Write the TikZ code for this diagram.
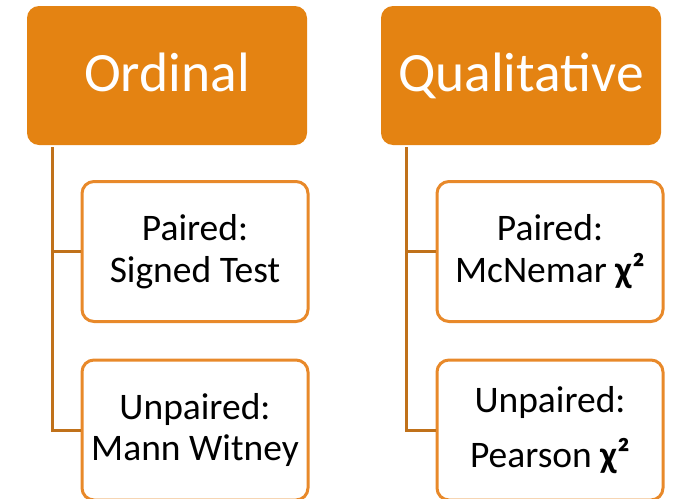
\documentclass[tikz,border=0pt]{standalone}
\usepackage{fontspec}
\setmainfont{Carlito}
\definecolor{headfill}{RGB}{228,131,18}
\definecolor{leafdraw}{RGB}{232,137,42}
\definecolor{branchcol}{RGB}{192,113,26}
\tikzset{
  headbox/.style={rectangle, rounded corners=12pt, fill=headfill, text=white,
    minimum width=280pt, minimum height=139pt, text height=39pt, text depth=8pt,
    font=\fontsize{55.5}{60}\selectfont},
  leafbox/.style={rectangle, rounded corners=12pt, draw=leafdraw, line width=3pt, fill=white,
    minimum width=226pt, minimum height=140pt, align=center,
    font=\fontsize{37.5}{41.5}\selectfont},
  branch/.style={draw=branchcol, line width=3pt}
}
\begin{document}
\begin{tikzpicture}[x=1pt,y=-1pt]
            
            \useasboundingbox (0,0) rectangle (674,498);
            
            \node[headbox] (ordinal) at (167,75.5) {Ordinal};
            \node[headbox] (qualit) at (521,75.5) {Qualitative};
            
            \node[leafbox] (ordpaired) at (195,251.5) {Paired:\\Signed Test};
            \node[leafbox] (ordunpaired) at (195,430) {Unpaired:\\Mann Witney};
            \node[leafbox] (qualpaired) at (550,251.5) {Paired:\\McNemar \textbf{χ²}};
            \node[leafbox] (qualunpaired) at (550,430) {Unpaired:\\[14pt]Pearson \textbf{χ²}};
            
            \draw[branch] ([xshift=26pt,yshift=-2pt]ordinal.south west) |- (ordpaired.west);
            \draw[branch] ([xshift=26pt,yshift=-2pt]ordinal.south west) |- (ordunpaired.west);
            \draw[branch] ([xshift=26pt,yshift=-2pt]qualit.south west) |- (qualpaired.west);
            \draw[branch] ([xshift=26pt,yshift=-2pt]qualit.south west) |- (qualunpaired.west);
            
        \end{tikzpicture}
\end{document}
